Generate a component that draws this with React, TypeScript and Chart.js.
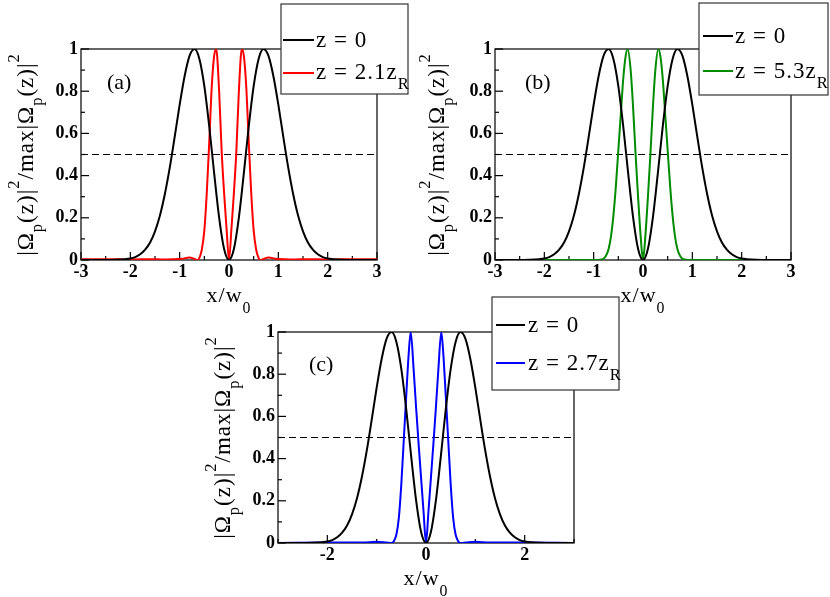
import React, { useEffect, useRef } from "react";
import { Chart, registerables } from "chart.js";

Chart.register(...registerables);

const W = 830;
const H = 597;
const SERIF = '"Liberation Serif", "Times New Roman", serif';

// ---------- data ----------
const xRange = [-3, 3];
const yRange = [0, 1];
const halfLevel = 0.5;

const xBlack = [-3, -2.6, -2.3, -2.1, -2.0, -1.9, -1.8, -1.7, -1.6, -1.5, -1.4, -1.3, -1.2, -1.1, -1.0, -0.9, -0.8, -0.7, -0.6, -0.5, -0.4, -0.3, -0.2, -0.1, 0, 0.1, 0.2, 0.3, 0.4, 0.5, 0.6, 0.7, 0.8, 0.9, 1.0, 1.1, 1.2, 1.3, 1.4, 1.5, 1.6, 1.7, 1.8, 1.9, 2.0, 2.1, 2.3, 2.6, 3];
const yBlack = [0, 0, 0.001, 0.004, 0.007, 0.014, 0.027, 0.049, 0.083, 0.136, 0.211, 0.313, 0.439, 0.585, 0.736, 0.871, 0.967, 1.0, 0.953, 0.824, 0.632, 0.409, 0.201, 0.053, 0, 0.053, 0.201, 0.409, 0.632, 0.824, 0.953, 1.0, 0.967, 0.871, 0.736, 0.585, 0.439, 0.313, 0.211, 0.136, 0.083, 0.049, 0.027, 0.014, 0.007, 0.004, 0.001, 0, 0];

const xRed = [-3, -2.5, -2.0, -1.6, -1.3, -1.1, -0.95, -0.8, -0.7, -0.64, -0.6, -0.55, -0.5, -0.45, -0.4, -0.35, -0.3, -0.26, -0.2, -0.15, -0.1, -0.05, 0, 0.05, 0.1, 0.15, 0.2, 0.26, 0.3, 0.35, 0.4, 0.45, 0.5, 0.55, 0.6, 0.64, 0.7, 0.8, 0.95, 1.1, 1.3, 1.6, 2.0, 2.5, 3];
const yRed = [0.003, 0.004, 0.002, 0.004, 0.002, 0.004, 0.006, 0.012, 0.005, 0, 0.01, 0.05, 0.14, 0.32, 0.56, 0.82, 0.97, 1.0, 0.80, 0.52, 0.32, 0.15, 0, 0.15, 0.32, 0.52, 0.80, 1.0, 0.97, 0.82, 0.56, 0.32, 0.14, 0.05, 0.01, 0, 0.005, 0.012, 0.006, 0.004, 0.002, 0.004, 0.002, 0.004, 0.003];

const xGreen = [-3, -2, -1.2, -0.9, -0.85, -0.8, -0.75, -0.7, -0.65, -0.6, -0.55, -0.5, -0.45, -0.4, -0.35, -0.31, -0.25, -0.2, -0.15, -0.1, -0.05, 0, 0.05, 0.1, 0.15, 0.2, 0.25, 0.31, 0.35, 0.4, 0.45, 0.5, 0.55, 0.6, 0.65, 0.7, 0.75, 0.8, 0.85, 0.9, 1.2, 2, 3];
const yGreen = [0, 0, 0, 0, 0.002, 0.006, 0.02, 0.05, 0.11, 0.21, 0.35, 0.52, 0.69, 0.86, 0.97, 1.0, 0.90, 0.72, 0.50, 0.30, 0.12, 0, 0.12, 0.30, 0.50, 0.72, 0.90, 1.0, 0.97, 0.86, 0.69, 0.52, 0.35, 0.21, 0.11, 0.05, 0.02, 0.006, 0.002, 0, 0, 0, 0];

const xBlue = [-3, -2, -1.3, -1.0, -0.8, -0.7, -0.65, -0.6, -0.55, -0.5, -0.45, -0.4, -0.35, -0.31, -0.25, -0.2, -0.15, -0.1, -0.05, 0, 0.05, 0.1, 0.15, 0.2, 0.25, 0.31, 0.35, 0.4, 0.45, 0.5, 0.55, 0.6, 0.65, 0.7, 0.8, 1.0, 1.3, 2, 3];
const yBlue = [0, 0.002, 0.002, 0.006, 0.002, 0, 0.01, 0.04, 0.12, 0.28, 0.49, 0.70, 0.90, 1.0, 0.82, 0.64, 0.47, 0.31, 0.15, 0, 0.15, 0.31, 0.47, 0.64, 0.82, 1.0, 0.90, 0.70, 0.49, 0.28, 0.12, 0.04, 0.01, 0, 0.002, 0.006, 0.002, 0.002, 0];

const labelZ0 = "z = 0";
const labelA = "z = 2.1z";
const labelB = "z = 5.3z";
const labelC = "z = 2.7z";
const subR = "R";

// ---------- rich text helpers ----------
type Part = [string, number]; // 0 normal, 1 sub, 2 sup

function partSize(k: number, size: number) {
  return k ? size * 0.72 : size;
}

function richWidth(ctx: CanvasRenderingContext2D, parts: Part[], size: number) {
  let w = 0;
  for (const [t, k] of parts) {
    ctx.font = `${partSize(k, size)}px ${SERIF}`;
    w += ctx.measureText(t).width;
  }
  return w;
}

function drawRich(
  ctx: CanvasRenderingContext2D,
  parts: Part[],
  x: number,
  y: number,
  size: number,
  align: "left" | "center",
  subDy = 0.45,
  supDy = 0.6
) {
  ctx.textAlign = "left";
  ctx.textBaseline = "alphabetic";
  let cx = align === "center" ? x - richWidth(ctx, parts, size) / 2 : x;
  for (const [t, k] of parts) {
    ctx.font = `${partSize(k, size)}px ${SERIF}`;
    const dy = k === 1 ? subDy * size : k === 2 ? -supDy * size : 0;
    ctx.fillText(t, cx, y + dy);
    cx += ctx.measureText(t).width;
  }
}

// ---------- panel configuration ----------
type Panel = {
  area: { left: number; top: number; right: number; bottom: number };
  xs: number[];
  ys: number[];
  color: string;
  majorX: number;
  minorX: number;
  tag: string;
  tagPos: [number, number];
  yTitleX: number;
  legendBox: [number, number, number, number];
  legendRows: { color: string; parts: Part[]; lineY: number; baseY: number }[];
  legendLine: [number, number];
  legendTextX: number;
};

const panels: Panel[] = [
  {
    area: { left: 81, top: 49, right: 377, bottom: 260 },
    xs: xRed,
    ys: yRed,
    color: "#ff0000",
    majorX: 1,
    minorX: 0.5,
    tag: "(a)",
    tagPos: [107, 89],
    yTitleX: 33,
    legendBox: [281, 4, 408, 94],
    legendRows: [
      { color: "#000000", parts: [[labelZ0, 0]], lineY: 40, baseY: 47 },
      { color: "#ff0000", parts: [[labelA, 0], [subR, 1]], lineY: 73, baseY: 79 },
    ],
    legendLine: [283, 314],
    legendTextX: 316,
  },
  {
    area: { left: 495, top: 49, right: 791, bottom: 260 },
    xs: xGreen,
    ys: yGreen,
    color: "#008b00",
    majorX: 1,
    minorX: 0.5,
    tag: "(b)",
    tagPos: [525, 89],
    yTitleX: 444,
    legendBox: [699, 3, 828, 95],
    legendRows: [
      { color: "#000000", parts: [[labelZ0, 0]], lineY: 36, baseY: 43 },
      { color: "#008b00", parts: [[labelB, 0], [subR, 1]], lineY: 71, baseY: 78 },
    ],
    legendLine: [703, 733],
    legendTextX: 735,
  },
  {
    area: { left: 278, top: 332, right: 574, bottom: 543 },
    xs: xBlue,
    ys: yBlue,
    color: "#0000ff",
    majorX: 2,
    minorX: 1,
    tag: "(c)",
    tagPos: [309, 371],
    yTitleX: 230,
    legendBox: [492, 297, 619, 390],
    legendRows: [
      { color: "#000000", parts: [[labelZ0, 0]], lineY: 325, baseY: 332 },
      { color: "#0000ff", parts: [[labelC, 0], [subR, 1]], lineY: 363, baseY: 370 },
    ],
    legendLine: [496, 525],
    legendTextX: 528,
  },
];

const Y_W = 40;
const X_H = 30;

const yTitleParts: Part[] = [
  ["|Ω", 0],
  ["p", 1],
  ["(z)|", 0],
  ["2", 2],
  ["/max|Ω", 0],
  ["p", 1],
  ["(z)|", 0],
  ["2", 2],
];
const xTitleParts: Part[] = [
  ["x/w", 0],
  ["0", 1],
];

function makeDecor(p: Panel) {
  return {
    id: "decor",
    beforeDatasetsDraw(chart: any) {
      const ctx: CanvasRenderingContext2D = chart.ctx;
      const { left, right, top, bottom } = chart.chartArea;
      const xs = chart.scales.x;
      const ys = chart.scales.y;
      ctx.save();
      ctx.strokeStyle = "#000";
      ctx.lineWidth = 1.2;
      ctx.strokeRect(left, top, right - left, bottom - top);
      // x ticks (inward)
      const nx = Math.round((xRange[1] - xRange[0]) / p.minorX);
      for (let i = 0; i <= nx; i++) {
        const v = xRange[0] + i * p.minorX;
        const isMajor = Math.abs(v / p.majorX - Math.round(v / p.majorX)) < 1e-6;
        const px = xs.getPixelForValue(v);
        ctx.beginPath();
        ctx.moveTo(px, bottom);
        ctx.lineTo(px, bottom - (isMajor ? 8 : 4));
        ctx.stroke();
      }
      // y ticks (inward)
      for (let i = 0; i <= 10; i++) {
        const v = yRange[0] + i * 0.1;
        const py = ys.getPixelForValue(v);
        ctx.beginPath();
        ctx.moveTo(left, py);
        ctx.lineTo(left + (i % 2 === 0 ? 8 : 4), py);
        ctx.stroke();
      }
      ctx.restore();
    },
    afterDraw(chart: any) {
      const ctx: CanvasRenderingContext2D = chart.ctx;
      const { left, right, top, bottom } = chart.chartArea;
      ctx.save();
      ctx.fillStyle = "#000";
      (ctx as any).letterSpacing = "1px";
      // y title
      ctx.save();
      ctx.translate(p.yTitleX, (top + bottom) / 2);
      ctx.rotate(-Math.PI / 2);
      drawRich(ctx, yTitleParts, 0, 0, 23, "center", 0.4, 0.62);
      ctx.restore();
      // x title
      drawRich(ctx, xTitleParts, (left + right) / 2, bottom + 42, 22, "center", 0.5, 0.6);
      // panel tag
      (ctx as any).letterSpacing = "0px";
      ctx.font = `22px ${SERIF}`;
      ctx.textAlign = "left";
      ctx.textBaseline = "alphabetic";
      ctx.fillText(p.tag, p.tagPos[0], p.tagPos[1]);
      // legend
      const [bl, bt, br, bb] = p.legendBox;
      ctx.fillStyle = "#fff";
      ctx.fillRect(bl, bt, br - bl, bb - bt);
      ctx.strokeStyle = "#333";
      ctx.lineWidth = 1.2;
      ctx.strokeRect(bl, bt, br - bl, bb - bt);
      for (const row of p.legendRows) {
        ctx.strokeStyle = row.color;
        ctx.lineWidth = 2;
        ctx.beginPath();
        ctx.moveTo(p.legendLine[0], row.lineY);
        ctx.lineTo(p.legendLine[1], row.lineY);
        ctx.stroke();
        ctx.fillStyle = "#000";
        (ctx as any).letterSpacing = "1px";
        drawRich(ctx, row.parts, p.legendTextX, row.baseY, 23, "left", 0.45, 0.6);
      }
      ctx.restore();
    },
  };
}

function makeConfig(p: Panel): any {
  const tickFont = { family: SERIF, weight: "bold", size: 18 };
  return {
    type: "line",
    data: {
      datasets: [
        {
          data: xBlack.map((x, i) => ({ x, y: yBlack[i] })),
          borderColor: "#000",
          borderWidth: 2,
          pointRadius: 0,
          cubicInterpolationMode: "monotone",
          fill: false,
        },
        {
          data: p.xs.map((x, i) => ({ x, y: p.ys[i] })),
          borderColor: p.color,
          borderWidth: 2,
          pointRadius: 0,
          cubicInterpolationMode: "monotone",
          fill: false,
        },
        {
          data: [
            { x: xRange[0], y: halfLevel },
            { x: xRange[1], y: halfLevel },
          ],
          borderColor: "#000",
          borderWidth: 1,
          borderDash: [7, 4],
          pointRadius: 0,
          fill: false,
        },
      ],
    },
    options: {
      responsive: false,
      animation: false,
      devicePixelRatio: 1,
      events: [],
      layout: {
        padding: {
          left: p.area.left - Y_W,
          top: p.area.top,
          right: W - p.area.right,
          bottom: H - p.area.bottom - X_H,
        },
      },
      plugins: {
        legend: { display: false },
        tooltip: { enabled: false },
        title: { display: false },
      },
      scales: {
        x: {
          type: "linear",
          min: xRange[0],
          max: xRange[1],
          grid: { display: false, drawTicks: false },
          border: { display: false },
          ticks: {
            stepSize: 1,
            includeBounds: false,
            autoSkip: false,
            maxRotation: 0,
            padding: 2,
            color: "#000",
            font: tickFont,
            callback: (v: number) => {
              const r = Math.round(v);
              return r % p.majorX === 0 ? String(r) : "";
            },
          },
          afterFit: (s: any) => {
            s.height = X_H;
          },
        },
        y: {
          type: "linear",
          min: yRange[0],
          max: yRange[1],
          grid: { display: false, drawTicks: false },
          border: { display: false },
          ticks: {
            stepSize: 0.2,
            autoSkip: false,
            padding: 3,
            color: "#000",
            font: tickFont,
            callback: (v: number) => String(Math.round(v * 10) / 10),
          },
          afterFit: (s: any) => {
            s.width = Y_W;
          },
        },
      },
    },
    plugins: [makeDecor(p)],
  };
}

function PanelChart({ p }: { p: Panel }) {
  const ref = useRef<HTMLCanvasElement>(null);
  useEffect(() => {
    const chart = new Chart(ref.current as HTMLCanvasElement, makeConfig(p));
    return () => chart.destroy();
  }, [p]);
  return (
    <canvas
      ref={ref}
      width={W}
      height={H}
      style={{ position: "absolute", left: 0, top: 0, width: W, height: H }}
    />
  );
}

export default function App() {
  return (
    <div
      style={{
        position: "fixed",
        left: 0,
        top: 0,
        width: W,
        height: H,
        background: "#fff",
        overflow: "hidden",
      }}
    >
      {panels.map((p, i) => (
        <PanelChart key={i} p={p} />
      ))}
    </div>
  );
}
